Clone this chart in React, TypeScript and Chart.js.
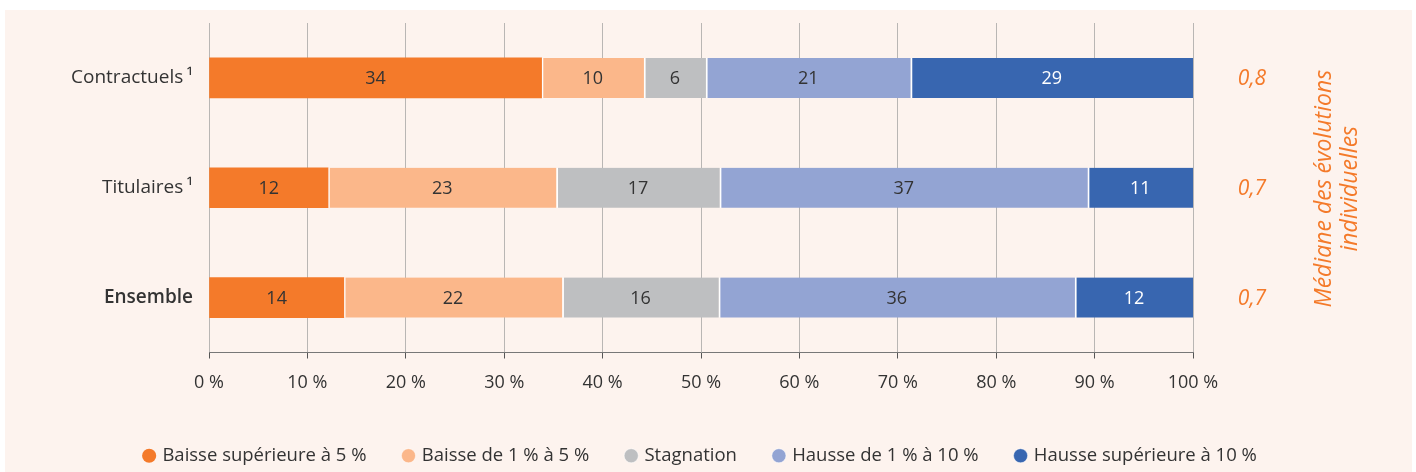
import React, { useEffect, useRef } from "react";
import { Chart, registerables } from "chart.js";

Chart.register(...registerables);

const categories = ["Contractuels\u2009¹", "Titulaires\u2009¹", "Ensemble"];
const seriesNames = [
  "Baisse supérieure à 5 %",
  "Baisse de 1 % à 5 %",
  "Stagnation",
  "Hausse de 1 % à 10 %",
  "Hausse supérieure à 10 %",
];
const baisseSup5 = [33.8, 12.1, 13.7];
const baisse1a5 = [10.4, 23.2, 22.2];
const stagnation = [6.3, 16.6, 15.9];
const hausse1a10 = [20.8, 37.4, 36.2];
const hausseSup10 = [28.7, 10.7, 12.0];
const medians = [0.8, 0.7, 0.7];
const xTicks = [0, 10, 20, 30, 40, 50, 60, 70, 80, 90, 100];
const medianTitle = ["Médiane des évolutions", "individuelles"];

const colors = ["#f47a2a", "#fbb78a", "#bebfc1", "#93a4d3", "#3866b0"];
const labelColors = ["#333333", "#333333", "#333333", "#333333", "#ffffff"];
const FONT = "'Open Sans', sans-serif";

export default function App() {
  const ref = useRef<HTMLCanvasElement>(null);

  useEffect(() => {
    document.body.style.margin = "0";
    const canvas = ref.current;
    if (!canvas) return;

    const bgPlugin = {
      id: "bg",
      beforeDraw(chart: any) {
        const ctx = chart.ctx;
        ctx.save();
        ctx.fillStyle = "#ffffff";
        ctx.fillRect(0, 0, chart.width, chart.height);
        ctx.fillStyle = "#fdf3ee";
        ctx.fillRect(5, 10, chart.width - 9, chart.height - 10);
        ctx.restore();
      },
    };

    const legendCenterPlugin = {
      id: "legendCenter",
      afterLayout(chart: any) {
        const lg = chart.legend;
        if (lg) {
          const shift =
            (chart.chartArea.left + chart.chartArea.right) / 2 - (lg.left + lg.right) / 2;
          lg.left += shift;
          lg.right += shift;
        }
      },
    };

    const labelPlugin = {
      id: "barLabels",
      afterDatasetsDraw(chart: any) {
        const ctx = chart.ctx;
        ctx.save();
        ctx.font = `18px ${FONT}`;
        ctx.textAlign = "center";
        ctx.textBaseline = "middle";
        chart.data.datasets.forEach((ds: any, di: number) => {
          const meta = chart.getDatasetMeta(di);
          meta.data.forEach((el: any, i: number) => {
            const v = ds.data[i];
            ctx.fillStyle = labelColors[di];
            ctx.fillText(String(Math.round(v)), (el.x + el.base) / 2, el.y + 1);
          });
        });
        // medians on the right
        const yScale = chart.scales.y;
        const area = chart.chartArea;
        ctx.fillStyle = "#f47a2a";
        ctx.font = `italic 21px ${FONT}`;
        medians.forEach((m, i) => {
          const y = yScale.getPixelForValue(i);
          ctx.fillText(m.toFixed(1).replace(".", ","), area.right + 59, y + 1);
        });
        // rotated title
        const cy = (area.top + area.bottom) / 2 + 1;
        ctx.translate(area.right + 144, cy);
        ctx.rotate(-Math.PI / 2);
        ctx.font = `italic 23px ${FONT}`;
        medianTitle.forEach((t, i) => {
          ctx.fillText(t, 0, i * 26 - 13);
        });
        ctx.restore();
      },
    };

    const datasets = [baisseSup5, baisse1a5, stagnation, hausse1a10, hausseSup10].map(
      (d, i) => ({
        label: seriesNames[i],
        data: d,
        backgroundColor: colors[i],
        borderColor: "#ffffff",
        borderWidth: { left: i > 0 ? 2 : 0, right: 0, top: 0, bottom: 0 },
        borderSkipped: false,
        barThickness: 40,
      })
    );

    const chart = new Chart(canvas, {
      type: "bar",
      data: { labels: categories, datasets },
      plugins: [bgPlugin, labelPlugin, legendCenterPlugin],
      options: {
        indexAxis: "y",
        responsive: false,
        animation: false,
        layout: { padding: { top: 23, right: 223, left: 0, bottom: -3 } },
        plugins: {
          tooltip: { enabled: false },
          legend: {
            position: "bottom",
            labels: {
              usePointStyle: true,
              pointStyle: "circle",
              boxWidth: 8,
              boxHeight: 10,
              padding: 38,
              color: "#333333",
              font: { family: FONT, size: 18.5 },
            },
          },
        },
        scales: {
          x: {
            stacked: true,
            min: 0,
            max: 100,
            afterBuildTicks(scale: any) {
              scale.ticks = xTicks.map((v) => ({ value: v }));
            },
            afterFit(scale: any) {
              scale.height = 56;
            },
            ticks: {
              color: "#333333",
              padding: 14,
              font: { family: FONT, size: 18 },
              callback: (v: any) => `${v} %`,
            },
            grid: {
              color: "#b9b6b4",
              tickColor: "#555555",
              tickLength: 6,
              lineWidth: 1,
            },
            border: { display: true, color: "#777777", width: 1 },
          },
          y: {
            stacked: true,
            afterFit(scale: any) {
              scale.width = 209;
            },
            ticks: {
              color: "#333333",
              padding: 0,
              font: (ctx: any) => ({
                family: FONT,
                size: 19,
                weight: ctx.index === 2 ? "600" : "normal",
              }),
            },
            grid: { display: false, drawTicks: true, tickLength: 16 },
            border: { display: false },
          },
        },
      },
    });
    return () => chart.destroy();
  }, []);

  return <canvas ref={ref} width={1416} height={472} />;
}
